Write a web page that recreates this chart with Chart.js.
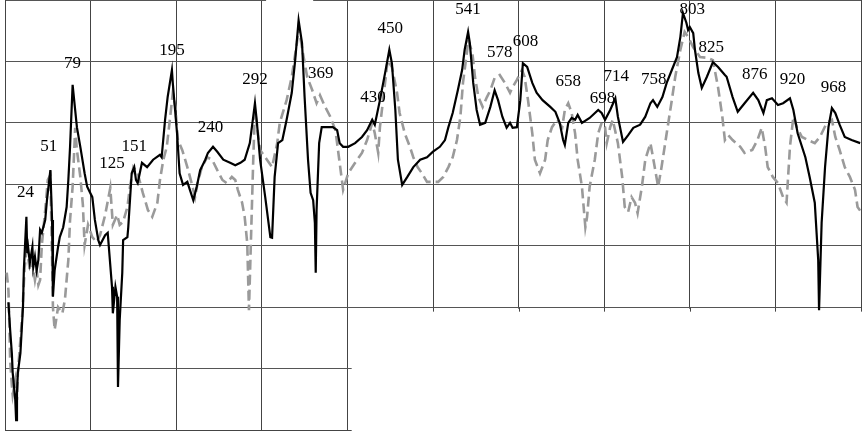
<!DOCTYPE html>
<html>
<head>
<meta charset="utf-8">
<script src="https://cdn.jsdelivr.net/npm/chart.js@4"></script>
<style>
  html, body { margin: 0; padding: 0; background: #fff; }
  #wrap { width: 863px; height: 431px; }
</style>
</head>
<body>
<div id="wrap"><canvas id="chart" width="863" height="431"></canvas></div>
<script>
// wavenumber (cm-1) / intensity
const blackX = [4,6,8,9,12,13,14,15,18,21,22,25,26,27,29,32,33,35,37,39,41,43,47,49,53,55,56,58,62,64,68,72,74,76,79,84,88,93,96,102,105,109,111,117,120,125,126,129,131,132,134,137,138,143,144,148,151,153,155,160,166,173,181,183,187,190,195,196,201,204,208,213,216,220,224,228,234,237,243,248,255,263,269,275,280,286,290,292,294,298,304,310,312,315,319,324,329,335,339,343,347,350,354,357,360,362,363,364,367,370,376,383,388,391,395,401,409,417,423,429,432,438,444,449,452,456,459,464,470,477,485,493,500,508,514,518,523,529,534,537,541,543,547,551,555,561,567,572,576,581,586,590,593,598,602,605,610,616,621,628,637,643,648,652,654,658,662,666,669,674,683,693,697,701,707,713,716,722,728,734,742,748,754,757,762,768,773,779,785,789,792,796,798,800,804,806,810,814,820,827,833,841,843,850,856,864,874,880,886,890,896,903,909,917,921,926,935,940,946,950,951,954,958,962,966,970,975,981,989,999];
const blackY = [20.8,16.3,12.5,9.3,4.9,1.6,6.0,9.3,12.5,20.0,26.0,34.7,28.8,29.8,27.2,29.8,26.5,28.2,26.0,27.7,32.6,32.1,34.2,37.4,42.3,34.2,21.7,26.0,29.8,31.4,33.0,36.3,40.7,46.1,56.2,49.3,46.1,41.8,39.6,37.9,34.2,30.9,30.1,31.7,32.1,23.3,19.0,23.3,21.7,7.0,17.9,25.6,30.9,31.4,33.0,41.8,42.8,40.7,40.2,43.5,42.8,44.0,44.8,44.4,50.5,54.2,58.6,56.5,48.3,41.8,39.9,40.4,39.1,37.4,39.6,42.3,44.0,45.1,46.1,45.3,44.0,43.5,43.1,43.5,44.0,46.7,51.0,53.2,50.5,44.0,37.9,31.4,31.3,41.2,46.7,47.2,50.5,54.9,60.2,66.7,63.0,54.2,44.0,38.6,37.4,33.7,25.6,35.8,46.7,49.3,49.3,49.3,48.8,46.7,46.1,46.1,46.7,47.7,48.8,50.5,49.7,53.7,58.1,61.9,59.7,52.1,44.0,39.9,41.2,42.8,44.0,44.4,45.3,46.1,47.2,49.3,51.6,55.3,58.6,61.9,64.8,63.0,56.5,52.1,49.7,50.0,52.6,55.3,53.7,51.0,49.2,50.0,49.2,49.3,53.7,59.7,59.1,56.5,54.9,53.7,52.6,51.8,50.0,47.2,46.4,50.0,50.8,50.5,51.3,50.0,50.8,52.1,51.6,50.5,52.1,54.0,51.0,46.9,48.0,49.2,49.7,51.0,53.2,53.7,52.6,54.2,56.5,58.6,60.7,64.0,67.9,66.3,65.1,65.6,64.6,61.9,58.1,55.7,57.5,59.9,59.1,57.8,57.5,54.2,51.8,53.2,54.9,53.7,51.6,53.7,54.0,52.9,53.2,54.0,52.1,48.3,44.4,41.2,37.0,27.7,19.5,33.7,42.8,49.3,52.4,51.6,49.7,47.7,47.2,46.7];

const grayX = [2,4,5,6,8,9,12,14,15,18,20,23,26,27,29,32,35,37,39,41,43,47,50,53,55,56,58,62,67,70,74,76,79,82,84,88,91,93,97,102,107,111,117,123,126,131,134,138,143,146,150,155,161,167,172,178,181,185,189,193,196,199,202,207,213,218,222,225,230,236,242,248,254,259,265,269,272,277,280,283,284,285,287,290,292,298,306,312,318,321,329,335,341,343,348,353,359,364,368,374,380,386,389,394,395,401,409,417,423,429,432,436,438,444,447,452,458,461,467,473,477,482,487,493,499,506,512,518,523,528,532,535,540,541,546,549,553,558,563,567,572,578,584,590,593,598,604,607,611,616,619,625,631,634,639,645,651,654,658,662,666,669,674,678,680,683,689,693,697,701,703,707,710,716,721,724,728,732,736,739,744,748,754,757,763,767,773,779,783,789,794,798,804,812,820,827,833,838,841,845,850,859,864,873,879,884,888,891,897,903,909,913,917,921,925,931,938,946,952,960,966,970,975,981,987,993,996,1001];
const grayY = [25.6,22.8,17.9,11.4,7.3,5.7,8.1,4.9,9.3,14.7,18.4,26.5,30.4,28.2,26.0,27.3,24.4,26.0,23.6,24.4,30.1,35.8,40.7,41.5,27.7,20.0,16.3,20.0,19.0,21.2,27.7,34.2,39.6,49.2,45.6,41.2,36.6,30.1,33.4,31.4,30.6,31.7,35.0,39.4,33.4,35.0,33.4,33.9,36.3,39.6,42.8,41.8,38.6,35.8,34.7,37.0,40.7,44.0,46.1,51.0,54.9,52.6,47.2,45.6,42.8,40.2,37.9,40.2,42.8,44.4,44.0,42.3,40.7,40.2,41.2,40.7,39.1,37.0,34.7,30.4,24.9,19.5,29.3,44.0,52.1,45.6,44.0,42.8,46.7,50.0,53.7,57.5,63.0,65.6,61.4,57.5,55.3,53.2,54.5,52.6,51.0,48.8,45.6,40.2,39.1,41.8,43.5,45.1,47.2,50.0,48.3,45.1,49.3,56.5,60.2,59.1,54.9,51.6,48.3,46.1,44.4,42.8,41.8,40.4,40.4,40.4,41.2,42.8,44.4,47.2,51.0,56.5,61.9,63.5,61.4,57.5,54.2,52.6,54.2,55.3,57.3,57.8,56.5,54.9,55.8,57.0,58.6,57.5,53.7,48.3,44.0,41.8,44.0,47.2,49.3,50.5,49.3,52.1,53.2,51.6,48.3,44.0,39.6,33.0,34.7,39.6,44.0,48.3,50.0,49.3,46.7,49.3,50.5,46.7,41.2,36.3,35.5,37.9,37.0,35.3,39.6,44.0,46.7,44.4,39.6,42.8,48.3,53.7,57.5,61.9,64.8,64.0,62.3,60.7,60.6,60.2,55.8,51.0,47.2,48.0,47.2,46.1,45.1,45.6,47.2,49.2,46.1,42.8,41.2,40.2,37.9,37.0,46.1,51.0,49.3,47.7,47.2,46.7,47.7,50.0,50.5,47.7,45.6,42.8,41.2,39.1,36.3,35.3];

// peak labels and the height they are written at
const peakLabels = [24,51,79,125,151,195,240,292,369,430,450,541,578,608,658,698,714,758,803,825,876,920,968];
const peakLevels = [38.7,46.1,59.7,43.3,46.2,61.7,49.2,57.1,58.1,54.2,65.4,68.5,61.4,63.2,56.8,54.0,57.5,57.1,68.5,62.3,57.8,57.0,55.7];

const toPoints = (xs, ys) => xs.map((x, i) => ({ x: x, y: ys[i] }));

// the lower right block of the grid is missing in the original
const cutGrid = {
  id: "cutGrid",
  beforeDatasetsDraw(chart) {
    const { ctx, chartArea, scales } = chart;
    const x = scales.x, y = scales.y;
    const left = x.getPixelForValue(405);
    const top = y.getPixelForValue(20) + 1.5;
    ctx.save();
    ctx.fillStyle = "#fff";
    ctx.fillRect(left, top, chartArea.right - left + 3, chartArea.bottom - top + 3);
    // small gap in the top frame line
    ctx.fillRect(x.getPixelForValue(305), 0, x.getPixelForValue(360) - x.getPixelForValue(305), 2);
    // short tick marks under the cut grid
    ctx.strokeStyle = "#444";
    ctx.lineWidth = 1;
    for (let v = 500; v <= 1000; v += 100) {
      const px = Math.round(x.getPixelForValue(v)) + 0.5;
      ctx.beginPath();
      ctx.moveTo(px, top - 1);
      ctx.lineTo(px, top + 3);
      ctx.stroke();
    }
    ctx.restore();
  }
};

const peakText = {
  id: "peakText",
  afterDatasetsDraw(chart) {
    const { ctx, scales } = chart;
    ctx.save();
    ctx.font = "17px 'Liberation Serif', 'Times New Roman', serif";
    ctx.fillStyle = "#000";
    ctx.textAlign = "center";
    ctx.textBaseline = "middle";
    peakLabels.forEach((p, i) => {
      ctx.fillText(String(p), scales.x.getPixelForValue(p), scales.y.getPixelForValue(peakLevels[i]));
    });
    ctx.restore();
  }
};

new Chart(document.getElementById("chart"), {
  type: "line",
  data: {
    datasets: [
      {
        label: "black",
        data: toPoints(blackX, blackY),
        borderColor: "#000",
        borderWidth: 2.2,
        pointRadius: 0,
        tension: 0,
        fill: false,
        order: 1
      },
      {
        label: "gray",
        data: toPoints(grayX, grayY),
        borderColor: "#9a9a9a",
        borderWidth: 2.6,
        borderDash: [10, 5],
        pointRadius: 0,
        tension: 0,
        fill: false,
        order: 2
      }
    ]
  },
  options: {
    responsive: false,
    animation: false,
    layout: { padding: { left: 5, right: 2, top: 0, bottom: 1 } },
    plugins: { legend: { display: false }, tooltip: { enabled: false } },
    scales: {
      x: {
        type: "linear",
        min: 0,
        max: 1000,
        ticks: { display: false, stepSize: 100 },
        grid: { color: "#444", lineWidth: 1, drawTicks: false },
        border: { color: "#444" }
      },
      y: {
        min: 0,
        max: 70,
        ticks: { display: false, stepSize: 10 },
        grid: { color: "#555", lineWidth: 1, drawTicks: false },
        border: { color: "#444" }
      }
    }
  },
  plugins: [cutGrid, peakText]
});
</script>
</body>
</html>
